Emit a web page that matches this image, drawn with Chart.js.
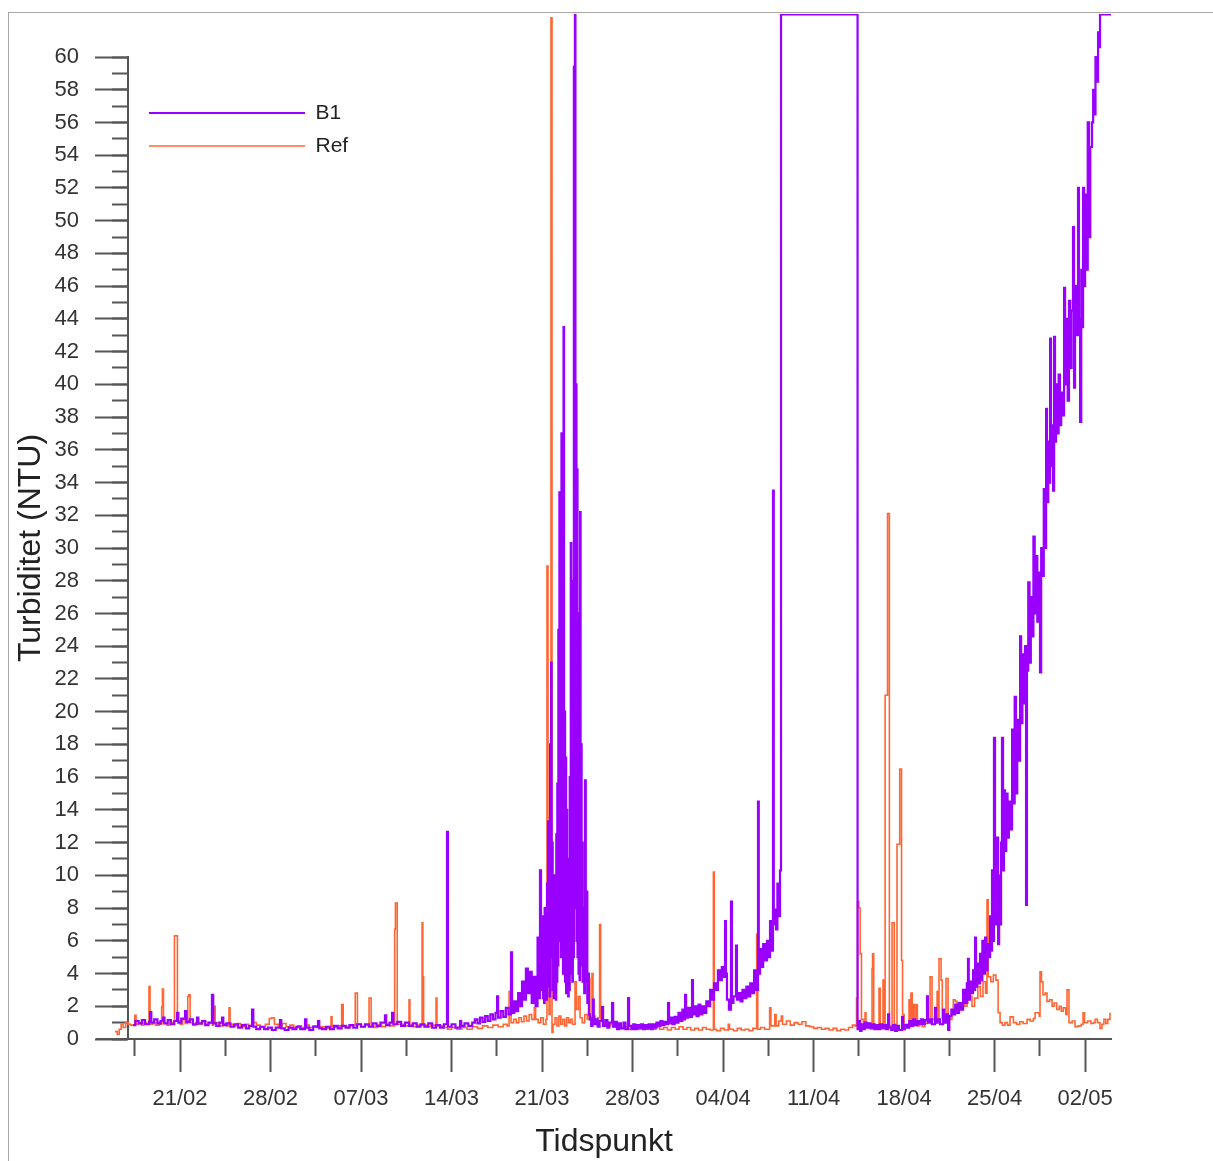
<!DOCTYPE html>
<html><head><meta charset="utf-8">
<script src="https://cdn.jsdelivr.net/npm/chart.js@4.4.1/dist/chart.umd.min.js"></script>
<style>
html,body{margin:0;padding:0;background:#fff;}
#wrap{position:relative;width:1213px;height:1161px;overflow:hidden;}
#frame{position:absolute;left:8px;top:12px;width:1300px;height:1300px;border-left:1px solid #a8a8a8;border-top:1px solid #a8a8a8;}
canvas{position:absolute;left:0;top:0;}
</style></head>
<body><div id="wrap"><div id="frame"></div><canvas id="c" width="1213" height="1161"></canvas></div>
<script>
// x values are days counted from 21/02
const seriesNames = ['B1', 'Ref'];
const xTickDays = [0, 7, 14, 21, 28, 35, 42, 49, 56, 63, 70];
const xTickLabels = ['21/02', '28/02', '07/03', '14/03', '21/03', '28/03', '04/04', '11/04', '18/04', '25/04', '02/05'];
const xMinorTickDays = [-3.5, 3.5, 10.5, 17.5, 24.5, 31.5, 38.5, 45.5, 52.5, 59.5, 66.5];
const xTitle = 'Tidspunkt';
const yTitle = 'Turbiditet (NTU)';

const b1Points = [
[-3.63,0.85],[-3.45,1.1],[-3.2,0.95],[-2.95,1.15],[-2.7,0.9],[-2.4,1.05],[-2.32,1.65],[-2.22,1.0],[-2.0,1.2],[-1.75,0.95],[-1.5,1.1],[-1.31,1.3],[-1.2,0.95],[-0.95,1.15],[-0.7,0.9],[-0.45,1.1],[-0.23,1.6],[-0.13,1.0],[0.1,1.25],[0.39,1.7],[0.5,1.05],[0.75,1.2],[1.0,0.9],[1.31,1.3],[1.42,0.95],[1.7,1.1],[1.95,0.85],[2.2,1.0],[2.47,2.7],[2.57,0.95],[2.8,0.8],[3.05,1.0],[3.25,1.3],[3.35,0.85],[3.6,0.95],[3.9,0.75],[4.2,0.9],[4.5,0.7],[4.8,0.85],[5.1,0.65],[5.35,0.8],[5.57,1.8],[5.67,0.75],[5.9,0.6],[6.2,0.75],[6.5,0.6],[6.8,0.7],[7.1,0.55],[7.4,0.7],[7.73,1.15],[7.83,0.65],[8.1,0.55],[8.4,0.7],[8.7,0.6],[9.0,0.75],[9.3,0.6],[9.67,1.2],[9.77,0.7],[10.0,0.55],[10.3,0.75],[10.67,1.1],[10.77,0.65],[11.0,0.6],[11.3,0.75],[11.6,0.6],[11.9,0.8],[12.2,0.65],[12.5,0.8],[12.8,0.7],[13.1,0.85],[13.4,0.7],[13.7,0.9],[14.0,0.75],[14.3,0.9],[14.6,0.75],[14.9,0.95],[15.2,0.8],[15.5,1.0],[15.85,1.45],[15.95,0.85],[16.2,1.0],[16.4,1.6],[16.5,0.9],[16.8,1.05],[17.1,0.8],[17.4,1.0],[17.7,0.8],[18.0,0.95],[18.3,0.75],[18.6,0.9],[18.9,0.75],[19.2,0.95],[19.5,0.7],[19.8,0.85],[20.1,0.7],[20.4,0.9],[20.65,12.65],[20.72,0.75],[21.0,0.9],[21.3,0.7],[21.66,1.1],[21.75,0.8],[22.0,0.95],[22.3,0.8],
[22.6,1.0],[22.8,1.2],[23.0,0.95],[23.2,1.3],[23.4,1.05],[23.6,1.4],[23.8,1.1],[24.0,1.5],[24.2,1.2],[24.4,1.6],[24.52,2.6],[24.6,1.3],[24.8,1.7],[25.0,1.35],[25.2,1.9],[25.4,1.5],[25.6,5.3],[25.68,1.6],[25.85,2.3],[26.0,1.7],[26.15,2.8],[26.3,2.0],[26.45,3.5],[26.6,2.4],[26.75,4.3],[26.9,2.8],[27.05,4.1],[27.2,2.2],[27.35,3.8],[27.5,2.0],[27.65,6.2],[27.75,2.5],[27.84,10.3],[27.92,3.0],
[28.0,3.0],[28.04,7.5],[28.08,2.5],[28.12,5.5],[28.16,2.2],[28.2,8.0],[28.25,3.0],[28.3,6.0],[28.34,2.4],[28.38,9.5],[28.42,3.2],[28.46,13.3],[28.5,4.0],[28.54,7.0],[28.58,2.6],[28.62,18.0],[28.66,5.0],[28.7,23.0],[28.74,6.5],[28.78,12.0],[28.82,3.0],[28.86,9.5],[28.9,2.5],[28.94,10.0],[28.98,3.2],[29.02,8.0],[29.06,2.4],[29.1,12.5],[29.14,3.5],[29.18,15.6],[29.22,4.5],[29.26,25.0],[29.3,6.0],[29.34,33.4],[29.38,8.0],[29.42,21.0],[29.46,5.0],[29.5,37.0],[29.54,9.0],[29.58,28.0],[29.62,4.0],[29.66,43.5],[29.7,12.0],[29.74,20.0],[29.78,3.5],[29.82,17.2],[29.86,2.8],[29.9,14.0],[29.94,3.6],[29.98,11.0],[30.02,2.6],[30.06,9.0],[30.1,3.0],[30.14,16.0],[30.18,4.0],[30.22,30.3],[30.26,6.0],[30.3,22.0],[30.34,3.5],[30.38,28.0],[30.42,5.0],[30.46,59.4],[30.5,8.0],[30.54,62.6],[30.58,10.0],[30.62,40.0],[30.66,6.0],[30.7,34.8],[30.74,5.0],[30.78,26.0],[30.82,4.0],[30.86,21.0],[30.9,3.6],[30.94,32.2],[30.98,5.0],[31.02,18.0],[31.06,4.5],[31.1,12.0],[31.14,3.5],[31.2,8.0],[31.26,2.8],[31.32,15.8],[31.38,3.5],[31.44,9.0],[31.5,2.2],[31.56,4.0],[31.62,1.5],
[31.7,1.2],[31.8,0.8],[31.9,1.3],[31.94,2.4],[32.0,0.9],[32.15,1.2],[32.3,0.75],[32.45,1.1],[32.64,1.95],[32.72,0.8],[32.9,1.15],[33.05,0.7],[33.2,1.0],[33.41,2.2],[33.5,0.75],[33.65,1.05],[33.8,0.6],[33.95,0.95],[34.1,0.65],[34.3,1.0],[34.45,0.6],[34.65,2.5],[34.73,0.8],[34.9,0.6],[35.05,0.9],[35.2,0.6],[35.35,0.85],[35.5,0.65],[35.65,0.9],[35.8,0.6],[35.95,0.85],[36.1,0.65],[36.25,0.9],[36.4,0.6],[36.55,0.9],[36.7,0.7],[36.85,1.0],[37.0,0.8],[37.15,1.1],[37.3,0.85],[37.45,1.05],[37.6,0.9],[37.74,2.2],[37.82,0.95],[37.95,1.3],[38.1,0.9],[38.25,1.35],[38.4,1.0],[38.55,1.6],[38.7,1.1],[38.85,1.8],[38.95,1.2],[39.06,2.7],[39.14,1.3],[39.3,1.9],[39.45,1.35],[39.6,3.6],[39.67,1.5],[39.8,2.0],[39.95,1.4],[40.1,2.1],[40.25,1.5],[40.4,2.0],[40.55,1.6],[40.7,2.3],[40.85,2.0],[41.0,3.0],[41.15,2.4],[41.3,3.4],[41.45,3.0],[41.6,4.2],[41.75,3.6],[41.9,4.4],[42.0,3.8],
[42.15,7.2],[42.22,4.0],[42.3,2.4],[42.45,1.8],[42.61,8.4],[42.68,2.2],[42.8,2.6],[43.0,5.7],[43.07,2.4],[43.2,2.8],[43.35,2.3],[43.5,3.0],[43.65,2.5],[43.8,3.2],[43.95,2.6],[44.1,3.4],[44.25,2.8],[44.4,4.2],[44.55,3.0],[44.7,14.5],[44.76,4.0],[44.86,5.5],[45.0,4.4],[45.1,5.8],[45.25,4.8],[45.4,6.0],[45.5,5.0],[45.63,7.2],[45.72,5.4],[45.86,33.5],[45.92,7.0],[46.0,7.9],[46.1,6.7],[46.2,9.5],[46.3,7.5],[46.4,10.3],[46.48,62.6],[52.36,62.6],
[52.4,0.6],[52.5,1.1],[52.6,0.5],[52.7,0.9],[52.82,0.6],[52.95,1.0],[53.1,0.7],[53.25,0.95],[53.4,0.65],[53.55,0.9],[53.7,0.6],[53.85,0.85],[54.0,0.6],[54.15,0.9],[54.3,0.65],[54.45,0.85],[54.6,0.6],[54.76,1.5],[54.84,0.7],[55.0,0.55],[55.14,0.85],[55.3,0.5],[55.45,0.8],[55.6,0.55],[55.84,1.35],[55.92,0.6],[56.05,0.85],[56.23,0.7],[56.4,1.1],[56.55,0.8],[56.7,1.2],[56.85,0.85],[57.0,1.1],[57.15,0.9],[57.3,1.2],[57.45,0.9],[57.6,1.15],[57.77,2.6],[57.84,1.0],[58.0,1.2],[58.15,0.9],[58.39,1.9],[58.47,1.0],[58.6,1.2],[58.78,0.9],[59.01,1.8],[59.1,1.0],[59.25,1.5],[59.4,0.55],[59.5,1.4],[59.65,1.8],[59.8,1.5],[59.95,2.1],[60.1,1.6],[60.25,2.2],[60.4,1.8],[60.56,3.0],[60.7,2.2],[60.85,3.4],[60.94,4.9],[61.0,2.4],[61.1,3.5],[61.2,2.8],[61.33,4.2],[61.42,3.0],[61.49,6.2],[61.56,3.2],[61.65,4.6],[61.75,3.4],[61.87,5.2],[61.95,3.6],[62.05,6.0],[62.15,4.0],[62.26,6.2],[62.35,4.2],[62.45,5.8],[62.55,5.0],[62.65,7.5],[62.72,5.4],[62.8,10.3],[62.88,6.0],[62.95,18.4],[63.03,11.1],[63.1,7.0],[63.19,12.3],[63.27,5.8],[63.35,10.0],[63.42,7.0],[63.5,12.0],[63.57,18.4],[63.65,10.3],[63.72,15.2],[63.8,11.5],[63.9,15.0],[64.0,12.3],[64.1,14.5],[64.2,12.8],[64.35,18.9],[64.45,14.4],[64.55,20.9],[64.65,15.0],[64.75,19.5],[64.85,17.0],[64.97,24.6],[65.05,19.3],[65.15,23.5],[65.25,20.5],[65.35,24.0],[65.43,8.2],[65.5,22.5],[65.6,27.9],[65.7,23.0],[65.8,27.0],[65.89,24.6],[66.0,30.7],[66.1,26.0],[66.2,29.5],[66.3,25.5],[66.42,28.5],[66.51,22.4],[66.6,30.0],[66.7,28.3],[66.8,33.6],[66.9,30.0],[66.98,38.5],[67.05,32.8],[67.15,36.5],[67.22,34.0],[67.29,42.8],[67.36,35.0],[67.45,37.5],[67.52,33.5],[67.6,42.9],[67.67,36.5],[67.75,40.0],[67.85,37.0],[67.95,40.6],[68.05,37.5],[68.15,39.5],[68.29,38.1],[68.37,45.9],[68.45,40.0],[68.55,44.0],[68.65,39.0],[68.75,45.1],[68.85,41.0],[68.95,44.5],[69.06,49.6],[69.14,39.8],[69.22,46.0],[69.3,43.0],[69.45,52.0],[69.52,44.0],[69.61,37.7],[69.7,47.0],[69.78,43.5],[69.84,52.0],[69.92,46.0],[70.0,51.6],[70.08,47.0],[70.2,56.0],[70.3,49.0],[70.4,54.5],[70.53,56.0],[70.62,58.0],[70.7,56.5],[70.8,60.0],[70.92,58.5],[71.0,61.5],[71.1,60.6],[71.15,62.6],[72.0,62.6]
];

const refPoints = [
[-5.03,0.45],[-4.85,0.3],[-4.7,0.6],[-4.55,0.9],[-4.4,0.7],[-4.2,1.0],[-4.0,0.9],[-3.8,0.85],[-3.5,1.45],[-3.4,0.9],[-3.2,1.0],[-3.0,0.85],[-2.8,1.0],[-2.6,0.9],[-2.4,3.2],[-2.32,0.9],[-2.1,1.0],[-1.9,0.85],[-1.6,1.05],[-1.47,0.9],[-1.42,1.95],[-1.36,3.05],[-1.28,0.95],[-1.0,0.85],[-0.8,1.0],[-0.5,0.9],[-0.43,6.3],[-0.2,1.1],[0.0,0.9],[0.2,1.2],[0.4,0.95],[0.6,2.6],[0.68,2.7],[0.78,1.0],[1.0,0.85],[1.2,1.0],[1.45,0.9],[1.7,1.05],[2.0,0.85],[2.2,1.0],[2.5,0.85],[2.6,2.0],[2.72,1.0],[3.0,0.8],[3.3,0.95],[3.6,0.8],[3.79,1.9],[3.87,0.9],[4.1,0.8],[4.4,0.95],[4.7,0.75],[5.0,0.9],[5.3,0.8],[5.6,1.0],[5.9,0.85],[6.2,0.75],[6.6,0.9],[6.9,1.25],[7.1,1.3],[7.3,0.9],[7.6,0.8],[7.9,0.95],[8.2,0.75],[8.5,0.85],[8.8,0.7],[9.1,0.8],[9.4,0.7],[9.7,0.85],[10.0,0.7],[10.3,0.8],[10.6,0.7],[10.9,0.75],[11.2,0.65],[11.68,1.35],[11.76,0.75],[12.0,0.7],[12.3,0.8],[12.5,2.1],[12.62,0.8],[12.9,0.7],[13.2,0.85],[13.55,2.8],[13.72,0.9],[14.0,0.75],[14.3,0.85],[14.62,2.5],[14.78,0.8],[15.0,0.7],[15.3,0.85],[15.6,0.75],[15.9,0.9],[16.2,0.8],[16.6,6.7],[16.66,8.3],[16.8,0.9],[17.0,0.9],[17.3,0.8],[17.71,2.4],[17.78,0.85],[18.0,0.75],[18.3,0.85],[18.72,7.1],[18.78,3.8],[18.84,0.85],[19.1,0.75],[19.4,0.85],[19.8,2.5],[19.87,0.8],
[20.3,0.7],[20.7,0.6],[21.0,0.7],[21.4,0.6],[21.8,0.7],[22.2,0.6],[22.6,0.75],[23.0,0.65],[23.4,0.8],[23.8,0.7],[24.2,0.85],[24.6,0.75],[25.0,0.9],[25.3,0.8],[25.45,2.9],[25.6,1.0],[25.8,1.2],[26.0,1.0],[26.2,1.3],[26.4,1.05],[26.6,1.4],[26.8,1.1],[27.0,1.5],[27.2,1.2],[27.4,1.9],[27.5,1.2],[27.7,1.0],[27.9,1.3],[28.1,0.9],[28.3,1.2],[28.38,28.9],[28.46,13.5],[28.54,1.5],[28.62,2.9],[28.69,62.4],[28.77,0.4],[28.85,0.9],[29.0,1.3],[29.15,0.8],[29.3,1.4],[29.45,0.9],[29.6,1.2],[29.75,0.8],[29.9,1.3],[30.05,1.0],[30.2,1.2],[30.35,0.9],[30.55,3.5],[30.65,1.8],[30.8,2.6],[30.94,1.3],[31.1,1.0],[31.3,1.5],[31.5,1.2],[31.63,3.7],[31.7,1.3],[31.86,4.0],[31.94,1.4],[32.1,1.0],[32.3,1.3],[32.45,7.0],[32.53,1.1],[32.7,0.9],[32.9,1.0],[33.1,0.8],[33.3,0.9],[33.5,0.75],
[33.8,0.8],[34.1,0.65],[34.4,0.75],[34.7,0.6],[35.0,0.75],[35.3,0.65],[35.6,0.8],[35.9,0.6],[36.2,0.7],[36.5,0.6],[36.8,0.75],[37.1,0.6],[37.4,0.7],[37.7,0.55],[38.0,0.7],[38.3,0.6],[38.6,0.75],[38.9,0.6],[39.2,0.7],[39.5,0.55],[39.8,0.65],[40.1,0.55],[40.4,0.7],[40.7,0.6],[41.0,0.55],[41.25,10.2],[41.32,0.6],[41.5,0.5],[41.8,0.65],[42.1,0.55],[42.4,0.9],[42.5,0.6],[42.8,0.5],[43.1,0.65],[43.4,0.55],[43.7,0.6],[44.0,0.5],[44.3,0.65],[44.6,6.4],[44.68,0.6],[44.9,0.7],[45.2,0.6],[45.6,1.9],[45.7,0.8],[46.0,1.5],[46.1,0.8],[46.3,1.1],[46.5,1.4],[46.6,0.9],[46.9,1.1],[47.2,0.85],[47.5,1.0],[47.8,0.9],[48.1,1.05],[48.4,0.8],[48.7,0.75],[49.0,0.65],[49.3,0.7],[49.6,0.6],[49.9,0.65],[50.2,0.55],[50.5,0.65],[50.8,0.5],[51.1,0.6],[51.4,0.55],[51.7,0.7],[52.0,0.85],[52.2,0.8],[52.32,2.5],[52.4,8.4],[52.5,8.0],[52.6,5.2],[52.7,1.2],[52.85,0.9],[52.98,1.6],
[53.05,0.9],[53.2,0.75],[53.35,0.9],[53.52,4.3],[53.56,5.2],[53.65,0.9],[53.8,0.7],[53.95,0.85],[54.06,3.1],[54.16,0.8],[54.3,0.9],[54.37,3.6],[54.44,0.9],[54.53,21.0],[54.72,32.1],[54.86,0.8],[54.95,0.7],[55.07,7.1],[55.24,0.8],[55.35,0.9],[55.45,11.9],[55.66,16.5],[55.8,4.8],[55.88,1.5],[56.0,0.8],[56.15,0.9],[56.38,2.4],[56.45,0.9],[56.53,2.8],[56.63,1.0],[56.75,2.1],[56.82,0.9],[56.95,2.1],[57.02,0.8],[57.2,0.9],[57.4,0.75],[57.6,0.95],[57.8,1.1],[58.01,3.8],[58.16,1.2],[58.35,1.0],[58.55,2.9],[58.62,1.1],[58.7,4.9],[58.86,3.6],[58.95,1.3],[59.1,1.1],[59.24,3.7],[59.4,1.4],[59.55,1.2],[59.7,1.5],[59.8,2.4],[59.95,2.3],[60.1,1.6],[60.2,2.2],[60.4,1.8],[60.55,2.4],[60.7,2.0],[60.87,2.2],[60.94,2.6],[61.25,2.0],[61.45,2.5],[61.7,3.2],[61.9,2.6],[62.1,3.5],[62.3,2.8],[62.41,8.5],[62.5,3.8],[62.7,3.5],[62.9,3.9],[63.1,3.6],[63.27,1.6],[63.42,1.0],[63.6,0.85],[63.8,1.0],[64.0,0.85],[64.19,1.35],[64.45,1.0],[64.7,0.9],[64.95,1.05],[65.2,0.95],[65.51,1.2],[65.75,1.1],[66.0,1.25],[66.13,1.6],[66.45,1.4],[66.51,4.1],[66.62,3.5],[66.74,2.7],[66.9,2.8],[67.05,2.3],[67.25,2.4],[67.44,2.0],[67.6,2.2],[67.8,1.8],[68.0,2.0],[68.15,1.7],[68.3,1.9],[68.5,1.5],[68.6,3.0],[68.75,1.0],[69.0,1.1],[69.22,0.75],[69.45,0.8],[69.7,0.9],[69.84,1.6],[69.95,1.0],[70.2,1.1],[70.45,0.95],[70.65,1.0],[70.77,1.2],[70.95,1.0],[71.15,0.65],[71.3,0.9],[71.45,1.2],[71.6,0.95],[71.75,1.2],[71.92,1.6]
];

const seriesColors = ['#9900ff', '#ff6633'];

Chart.defaults.font.family = '"Liberation Sans", Arial, sans-serif';
Chart.defaults.color = '#333';

const toXY = pts => pts.map(p => ({x: p[0], y: p[1]}));
const axisColor = '#555';

const legendPlace = {
  id: 'legendPlace',
  afterLayout(chart) {
    const lg = chart.legend;
    if (lg) { lg.left = 137; lg.top = 90.5; }
  }
};

new Chart(document.getElementById('c'), {
  type: 'line',
  data: {
    datasets: [
      {label: seriesNames[0], data: toXY(b1Points), borderColor: seriesColors[0], backgroundColor: seriesColors[0], borderWidth: 2.2, pointRadius: 0, stepped: true, xAxisID: 'x', yAxisID: 'y', clip: {left: 0, top: 43, right: 2, bottom: 0}},
      {label: seriesNames[1], data: toXY(refPoints), borderColor: seriesColors[1], backgroundColor: seriesColors[1], borderWidth: 1.6, pointRadius: 0, stepped: true, xAxisID: 'x', yAxisID: 'y', clip: {left: 0, top: 43, right: 2, bottom: 0}}
    ]
  },
  options: {
    responsive: false,
    animation: false,
    devicePixelRatio: 1,
    layout: {padding: {left: 12, right: 102, top: 57, bottom: 0}},
    plugins: {
      tooltip: {enabled: false},
      legend: {
        position: 'chartArea',
        align: 'start',
        labels: {usePointStyle: true, pointStyle: 'line', pointStyleWidth: 156, padding: 12, color: '#222', font: {size: 21}}
      }
    },
    scales: {
      x: {
        type: 'linear', position: 'bottom', fullSize: false,
        min: -6.42, max: 72.0,
        afterBuildTicks: s => { s.ticks = xTickDays.map(v => ({value: v})); },
        afterFit: s => { s.height = 122; },
        ticks: {autoSkip: false, maxRotation: 0, minRotation: 0, padding: 14, color: '#333', font: {size: 22}, callback: (v, i) => xTickLabels[i]},
        grid: {display: true, drawOnChartArea: false, drawTicks: true, tickLength: 33, tickWidth: 2, tickColor: axisColor},
        border: {display: true, color: axisColor, width: 2},
        title: {display: true, text: xTitle, color: '#222', font: {size: 32}, padding: {top: 0, bottom: 0}}
      },
      xMinor: {
        type: 'linear', position: {y: 0}, display: true, fullSize: false,
        min: -6.42, max: 72.0,
        afterBuildTicks: s => { s.ticks = xMinorTickDays.map(v => ({value: v})); },
        ticks: {display: false, autoSkip: false},
        grid: {display: true, drawOnChartArea: false, drawTicks: true, tickLength: 17, tickWidth: 2, tickColor: axisColor},
        border: {display: false}
      },
      yTitleAxis: {
        type: 'linear', position: 'left', display: true, fullSize: false,
        min: 0, max: 60,
        afterFit: s => { s.width = 85; },
        ticks: {display: false},
        grid: {display: false, drawTicks: false},
        border: {display: false},
        title: {display: true, text: yTitle, color: '#222', font: {size: 32}, padding: {top: 0, bottom: 0}}
      },
      y: {
        type: 'linear', position: {x: -4}, fullSize: false,
        min: 0, max: 60,
        ticks: {display: false, stepSize: 2},
        grid: {display: true, drawOnChartArea: false, drawTicks: true, tickLength: 32, tickWidth: 2, tickColor: axisColor},
        border: {display: true, color: axisColor, width: 2}
      },
      yMinor: {
        type: 'linear', position: {x: -4}, display: true, fullSize: false,
        min: 0, max: 60,
        ticks: {display: false, stepSize: 1},
        grid: {display: true, drawOnChartArea: false, drawTicks: true, tickLength: 16, tickWidth: 2, tickColor: axisColor},
        border: {display: false}
      },
      yLabels: {
        type: 'linear', position: {x: -7.81}, display: true, fullSize: false,
        min: 0, max: 60,
        ticks: {display: true, stepSize: 2, padding: 0, color: '#333', font: {size: 22}},
        grid: {display: false, drawTicks: false},
        border: {display: false}
      }
    }
  },
  plugins: [legendPlace]
});
</script>
</body></html>
